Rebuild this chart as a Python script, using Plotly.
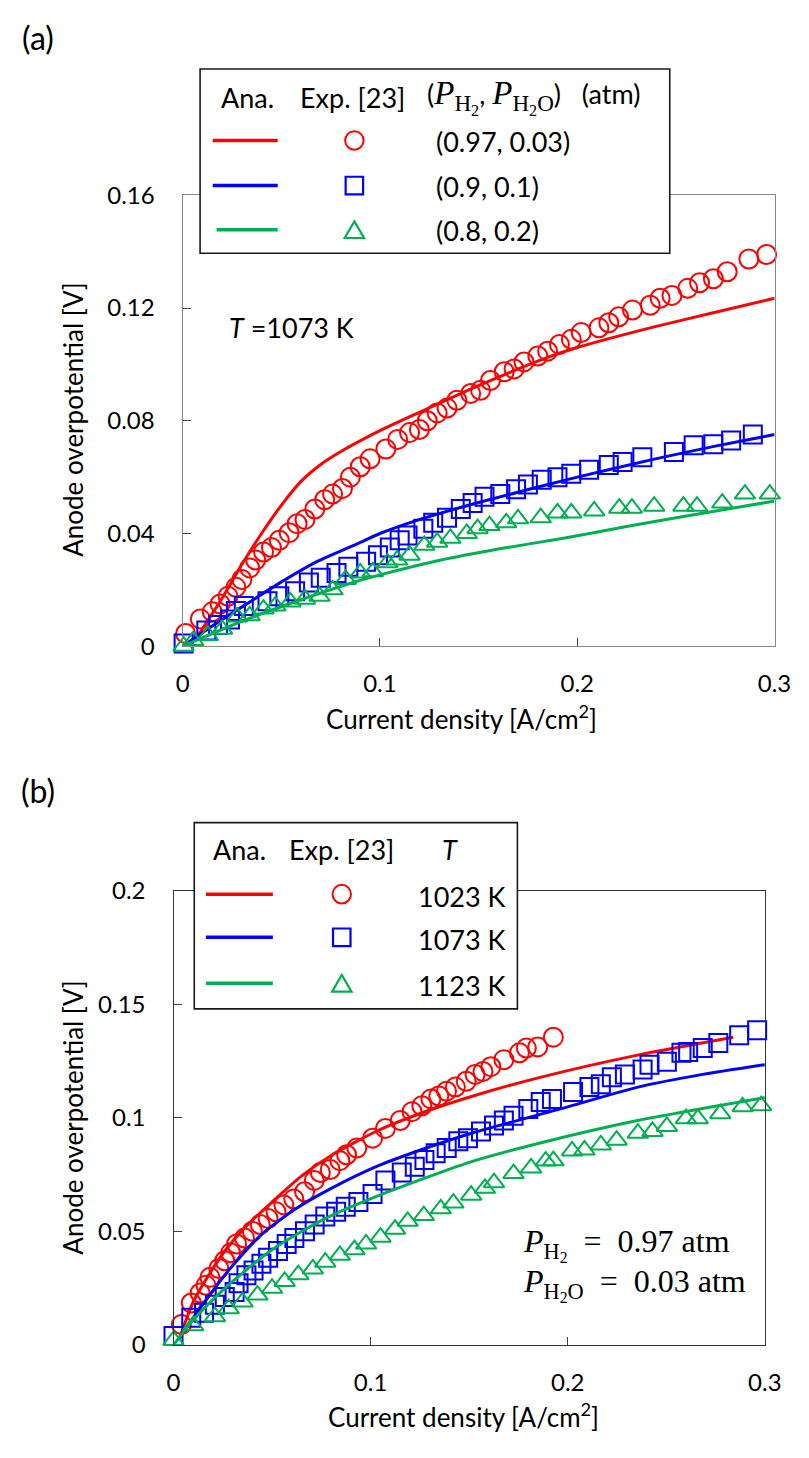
import plotly.graph_objects as go

W, H = 809, 1458
RED, BLUE, GREEN = "#FF0000", "#0000FF", "#00B050"
FONT = "Lato"
SERIF = "Liberation Serif"

# ---------------- Panel (a) data : T = 1073 K ----------------
a_red_line_x = [0.008, 0.02, 0.03, 0.04, 0.05, 0.06, 0.07, 0.08, 0.10, 0.12, 0.15, 0.185, 0.20, 0.24, 0.27, 0.30]
a_red_line_y = [0.004, 0.017, 0.029, 0.040, 0.050, 0.0585, 0.0645, 0.069, 0.0765, 0.083, 0.0925, 0.1025, 0.1060, 0.1135, 0.1185, 0.1235]

a_red_exp_x = [0.0015, 0.009, 0.015, 0.019, 0.023, 0.027, 0.030, 0.034, 0.037, 0.041, 0.045, 0.049, 0.054, 0.058,
               0.062, 0.067, 0.072, 0.076, 0.081, 0.085, 0.090, 0.095, 0.103, 0.109, 0.115, 0.120, 0.124, 0.129,
               0.134, 0.139, 0.146, 0.151, 0.156, 0.163, 0.168, 0.173, 0.180, 0.185, 0.191, 0.197, 0.202, 0.211,
               0.216, 0.221, 0.228, 0.237, 0.242, 0.248, 0.256, 0.262, 0.269, 0.276, 0.287, 0.296]
a_red_exp_y = [0.0045, 0.0097, 0.0122, 0.015, 0.0177, 0.0209, 0.0237, 0.0278, 0.0306, 0.0334, 0.035, 0.0376, 0.0403,
               0.0435, 0.045, 0.0487, 0.052, 0.054, 0.056, 0.060, 0.0637, 0.0665, 0.070, 0.0734, 0.0758, 0.0769,
               0.080, 0.0828, 0.0845, 0.0873, 0.0897, 0.0908, 0.0943, 0.0974, 0.0984, 0.1009, 0.103, 0.1047, 0.1071,
               0.1089, 0.1113, 0.113, 0.1148, 0.1169, 0.1193, 0.121, 0.1235, 0.1245, 0.127, 0.129, 0.1304, 0.1329,
               0.1374, 0.139]

a_blue_line_x = [0.0, 0.01, 0.02, 0.034, 0.047, 0.068, 0.089, 0.10, 0.118, 0.15, 0.20, 0.239, 0.27, 0.30]
a_blue_line_y = [0.0, 0.0048, 0.0095, 0.0157, 0.0215, 0.030, 0.0365, 0.040, 0.0445, 0.051, 0.060, 0.0664, 0.071, 0.0751]

a_blue_exp_x = [0.0005, 0.012, 0.018, 0.024, 0.027, 0.031, 0.043, 0.049, 0.057, 0.064, 0.070, 0.078, 0.084, 0.093,
                0.099, 0.105, 0.110, 0.114, 0.122, 0.127, 0.134, 0.141, 0.147, 0.153, 0.161, 0.169, 0.175, 0.182,
                0.190, 0.197, 0.206, 0.216, 0.223, 0.233, 0.249, 0.259, 0.269, 0.278, 0.289]
a_blue_exp_y = [0.001, 0.0056, 0.0075, 0.0095, 0.0125, 0.0143, 0.016, 0.0177, 0.0195, 0.0226, 0.0243, 0.026, 0.0282,
                0.030, 0.0323, 0.035, 0.0376, 0.0393, 0.0417, 0.0438, 0.0456, 0.0487, 0.0508, 0.053, 0.054, 0.0557,
                0.0574, 0.0591, 0.060, 0.0612, 0.0626, 0.0643, 0.0654, 0.0671, 0.0689, 0.0713, 0.0717, 0.073, 0.0751]

a_green_line_x = [0.0, 0.02, 0.04, 0.06, 0.083, 0.10, 0.131, 0.16, 0.193, 0.225, 0.256, 0.30]
a_green_line_y = [0.0, 0.006, 0.0115, 0.0165, 0.0219, 0.0253, 0.0306, 0.0345, 0.0383, 0.0425, 0.0463, 0.0515]

a_green_exp_x = [0.0005, 0.0054, 0.0128, 0.020, 0.0276, 0.034, 0.041, 0.047, 0.0546, 0.062, 0.0694, 0.076, 0.0826,
                 0.090, 0.0964, 0.1038, 0.1087, 0.115, 0.1225, 0.129, 0.1357, 0.144, 0.1495, 0.1555, 0.164, 0.170,
                 0.1815, 0.19, 0.197, 0.2086, 0.2213, 0.2277, 0.239, 0.2538, 0.2607, 0.2735, 0.285, 0.2976]
a_green_exp_y = [0.0, 0.002, 0.0038, 0.006, 0.0104, 0.0108, 0.0132, 0.0143, 0.0157, 0.0167, 0.0177, 0.020, 0.0237,
                 0.026, 0.0264, 0.0296, 0.0306, 0.0323, 0.0358, 0.0369, 0.0383, 0.040, 0.0417, 0.0428, 0.0438,
                 0.0452, 0.0456, 0.0473, 0.0473, 0.048, 0.049, 0.049, 0.0497, 0.0497, 0.0497, 0.0508, 0.054, 0.054]

# ---------------- Panel (b) data : P_H2 = 0.97, P_H2O = 0.03 ----------------
b_red_line_x = [0.003, 0.01, 0.018, 0.027, 0.037, 0.05, 0.065, 0.08, 0.104, 0.129, 0.152, 0.186, 0.236, 0.284]
b_red_line_y = [0.003, 0.019, 0.031, 0.0425, 0.0525, 0.063, 0.0745, 0.0835, 0.0946, 0.1032, 0.1097, 0.1179, 0.1278, 0.1356]

b_red_exp_x = [0.004, 0.009, 0.0135, 0.0165, 0.0185, 0.023, 0.026, 0.029, 0.032, 0.036, 0.040, 0.044, 0.048, 0.052,
               0.056, 0.061, 0.0665, 0.0714, 0.0745, 0.0795, 0.0844, 0.0878, 0.093, 0.101, 0.1075, 0.115, 0.121,
               0.126, 0.1306, 0.1346, 0.1385, 0.143, 0.1485, 0.153, 0.157, 0.161, 0.1676, 0.1755, 0.179, 0.1848, 0.1927]
b_red_exp_y = [0.009, 0.0185, 0.0229, 0.0263, 0.0298, 0.0337, 0.0371, 0.0406, 0.0445, 0.0471, 0.0501, 0.0531, 0.0557,
               0.0587, 0.0617, 0.0643, 0.0675, 0.0725, 0.076, 0.0773, 0.0812, 0.0838, 0.0868, 0.0911, 0.0954, 0.0989,
               0.1028, 0.1054, 0.1084, 0.1097, 0.1118, 0.1136, 0.1162, 0.1192, 0.1205, 0.1226, 0.1257, 0.1287,
               0.1308, 0.1313, 0.1356]

b_blue_line_x = [0.003, 0.01, 0.02, 0.03, 0.045, 0.062, 0.08, 0.104, 0.129, 0.152, 0.20, 0.2356, 0.2685, 0.30]
b_blue_line_y = [0.003, 0.012, 0.024, 0.035, 0.049, 0.060, 0.069, 0.079, 0.087, 0.0935, 0.1049, 0.1136, 0.1192, 0.1235]

b_blue_exp_x = [0.0, 0.009, 0.0155, 0.021, 0.026, 0.031, 0.033, 0.037, 0.0406, 0.0446, 0.048, 0.053, 0.0574, 0.0613,
                0.0667, 0.0716, 0.077, 0.0825, 0.0874, 0.0938, 0.101, 0.1075, 0.1158, 0.1224, 0.1273, 0.133, 0.1386,
                0.1445, 0.1494, 0.156, 0.1626, 0.1676, 0.1725, 0.18, 0.1863, 0.192, 0.2027, 0.211, 0.2168, 0.2224,
                0.229, 0.238, 0.2415, 0.2503, 0.2577, 0.2611, 0.2685, 0.2764, 0.287, 0.2961]
b_blue_exp_y = [0.004, 0.012, 0.0142, 0.0177, 0.0212, 0.0233, 0.0272, 0.0307, 0.0328, 0.0358, 0.0384, 0.0414, 0.0445,
                0.0471, 0.0501, 0.0531, 0.0566, 0.0587, 0.0609, 0.063, 0.0665, 0.0725, 0.076, 0.0785, 0.0815, 0.0845,
                0.0868, 0.0898, 0.0911, 0.0941, 0.0967, 0.0989, 0.101, 0.104, 0.107, 0.1084, 0.1114, 0.1136, 0.1149,
                0.1179, 0.1192, 0.1213, 0.1235, 0.1248, 0.1287, 0.1291, 0.1308, 0.133, 0.1364, 0.1386]

b_green_line_x = [0.0, 0.01, 0.02, 0.03, 0.05, 0.067, 0.08, 0.1075, 0.137, 0.152, 0.186, 0.236, 0.30]
b_green_line_y = [0.0, 0.011, 0.020, 0.028, 0.042, 0.051, 0.057, 0.067, 0.0765, 0.081, 0.089, 0.099, 0.109]

b_green_exp_x = [0.0, 0.010, 0.021, 0.028, 0.035, 0.0426, 0.050, 0.0564, 0.0633, 0.0707, 0.077, 0.0844, 0.0918,
                 0.0977, 0.105, 0.1124, 0.1188, 0.127, 0.1356, 0.142, 0.151, 0.158, 0.1626, 0.1725, 0.1814, 0.1888,
                 0.1927, 0.2022, 0.2085, 0.2168, 0.2248, 0.2356, 0.243, 0.2503, 0.26, 0.266, 0.2774, 0.2887, 0.2981]
b_green_exp_y = [0.002, 0.0085, 0.0125, 0.016, 0.019, 0.022, 0.025, 0.028, 0.031, 0.0335, 0.0365, 0.0395, 0.042,
                 0.0445, 0.0475, 0.051, 0.0545, 0.057, 0.060, 0.0625, 0.066, 0.069, 0.0715, 0.0755, 0.078, 0.081,
                 0.0812, 0.0855, 0.0859, 0.0881, 0.0902, 0.0933, 0.0941, 0.0963, 0.0997, 0.0997, 0.1019, 0.1049, 0.1054]

x_ticks = [0, 0.1, 0.2, 0.3]
x_ticktext = ["0", "0.1", "0.2", "0.3"]
a_y_ticks = [0, 0.04, 0.08, 0.12, 0.16]
a_y_ticktext = ["0", "0.04", "0.08", "0.12", "0.16"]
b_y_ticks = [0, 0.05, 0.1, 0.15, 0.2]
b_y_ticktext = ["0", "0.05", "0.1", "0.15", "0.2"]

a_legend_rows = ["(0.97, 0.03)", "(0.9, 0.1)", "(0.8, 0.2)"]
b_legend_rows = ["1023 K", "1073 K", "1123 K"]
x_title = "Current density [A/cm<sup>2</sup>]"
y_title = "Anode overpotential [V]"


def px(x):
    return x / W


def py(y):
    return 1 - y / H


fig = go.Figure()


def add_series(lx, ly, ex, ey, color, symbol, size, xa, ya):
    fig.add_trace(go.Scatter(x=lx, y=ly, mode="lines", line=dict(color=color, width=3, shape="spline", smoothing=0.6),
                             xaxis=xa, yaxis=ya, showlegend=False, cliponaxis=False, hoverinfo="skip"))
    fig.add_trace(go.Scatter(x=ex, y=ey, mode="markers",
                             marker=dict(symbol=symbol, size=size, color=color, line=dict(color=color, width=2)),
                             xaxis=xa, yaxis=ya, showlegend=False, cliponaxis=False))


add_series(a_red_line_x, a_red_line_y, a_red_exp_x, a_red_exp_y, RED, "circle-open", 19, "x", "y")
add_series(a_blue_line_x, a_blue_line_y, a_blue_exp_x, a_blue_exp_y, BLUE, "square-open", 18, "x", "y")
add_series(a_green_line_x, a_green_line_y, a_green_exp_x, a_green_exp_y, GREEN, "triangle-up-open", 18, "x", "y")
add_series(b_red_line_x, b_red_line_y, b_red_exp_x, b_red_exp_y, RED, "circle-open", 19, "x2", "y2")
add_series(b_blue_line_x, b_blue_line_y, b_blue_exp_x, b_blue_exp_y, BLUE, "square-open", 18, "x2", "y2")
add_series(b_green_line_x, b_green_line_y, b_green_exp_x, b_green_exp_y, GREEN, "triangle-up-open", 18, "x2", "y2")

tickfont = dict(family=FONT, size=24, color="black")


def xax(domain, anchor, linecolor):
    return dict(domain=domain, anchor=anchor, range=[0, 0.3], tickvals=x_ticks, ticktext=x_ticktext,
                showline=True, mirror=True, linecolor=linecolor, linewidth=1.3, ticks="inside", ticklen=8,
                tickcolor="#444", tickwidth=1.3, showgrid=False, zeroline=False, tickfont=tickfont,
                ticklabelstandoff=16)


def yax(domain, anchor, rng, tv, tt, linecolor):
    return dict(domain=domain, anchor=anchor, range=rng, tickvals=tv, ticktext=tt,
                showline=True, mirror=True, linecolor=linecolor, linewidth=1.3, ticks="inside", ticklen=8,
                tickcolor="#444", tickwidth=1.3, showgrid=False, zeroline=False, tickfont=tickfont,
                ticklabelstandoff=22)


fig.update_layout(
    width=W, height=H, margin=dict(l=0, r=0, t=0, b=0),
    paper_bgcolor="white", plot_bgcolor="white", showlegend=False,
    font=dict(family=FONT, color="black"),
    xaxis=xax([px(181), px(791)], "y", "#888888"),
    yaxis=yax([py(643), py(183)], "x", [0, 0.16], a_y_ticks, a_y_ticktext, "#888888"),
    xaxis2=xax([px(171.6), px(781)], "y2", "#333333"),
    yaxis2=yax([py(1356), py(892.7)], "x2", [0, 0.2], b_y_ticks, b_y_ticktext, "#333333"),
)

shapes = []
annots = []


def text(x, y, s, size=27, xanchor="center", family=FONT, angle=0):
    annots.append(dict(x=px(x), y=py(y), xref="paper", yref="paper", text=s, showarrow=False,
                       xanchor=xanchor, yanchor="middle", textangle=angle,
                       font=dict(family=family, size=size, color="black")))


def box(x0, y0, x1, y1):
    shapes.append(dict(type="rect", xref="paper", yref="paper", x0=px(x0), x1=px(x1), y0=py(y0), y1=py(y1),
                       fillcolor="white", line=dict(color="#1a1a1a", width=1.6), layer="above"))


def leg_line(x0, x1, y, color):
    shapes.append(dict(type="line", xref="paper", yref="paper", x0=px(x0), x1=px(x1), y0=py(y), y1=py(y),
                       line=dict(color=color, width=3.5), layer="above"))


def leg_marker(kind, cx, cy, color):
    if kind == "circle":
        r = 9.5
        shapes.append(dict(type="circle", xref="paper", yref="paper", x0=px(cx - r), x1=px(cx + r),
                           y0=py(cy + r), y1=py(cy - r), line=dict(color=color, width=2), layer="above"))
    elif kind == "square":
        r = 9
        shapes.append(dict(type="rect", xref="paper", yref="paper", x0=px(cx - r), x1=px(cx + r),
                           y0=py(cy + r), y1=py(cy - r), line=dict(color=color, width=2.2), layer="above"))
    else:
        w, h = 10, 17
        path = "M %f,%f L %f,%f L %f,%f Z" % (px(cx - w), py(cy + h / 2), px(cx + w), py(cy + h / 2),
                                              px(cx), py(cy - h / 2))
        shapes.append(dict(type="path", xref="paper", yref="paper", path=path,
                           line=dict(color=color, width=2.2), layer="above"))


S = '<span style="font-family:%s;font-size:33px">' % SERIF
E = "</span>"
NB = "\u00a0"
EN = "\u2002"

# ---- panel labels
text(32, 22, "(a)", size=32)
text(32, 790, "(b)", size=32)

# ---- axis titles
text(468, 716, x_title, size=26)
text(470, 1428, x_title, size=26)
text(68, 412, y_title, size=26, angle=-90)
text(68, 1124, y_title, size=26, angle=-90)

# ---- legend (a)
box(199, 54, 683, 242)
text(248, 83, "Ana.")
text(356, 83, "Exp. [23]")
text(431, 83, "(" + S + "<i>P</i><sub>H<sub>2</sub></sub>" + E + ", " + S + "<i>P</i><sub>H<sub>2</sub>O</sub>"
     + E + ")" + NB + NB + NB + "(atm)", xanchor="left")
rows_y_a = [127, 173, 218]
cols = [RED, BLUE, GREEN]
kinds = ["circle", "square", "triangle"]
for i in range(3):
    leg_line(212 if i < 2 else 216, 279, rows_y_a[i], cols[i])
    leg_marker(kinds[i], 358, rows_y_a[i], cols[i])
    text(440, rows_y_a[i] + 1, a_legend_rows[i], xanchor="left")

text(227, 318, "<i>T</i> =1073 K", xanchor="left")

# ---- legend (b)
box(193, 823, 526, 1013)
text(240, 850, "Ana.")
text(345, 850, "Exp. [23]")
text(457, 850, "<i>T</i>")
rows_y_b = [896, 940, 987]
for i in range(3):
    leg_line(205, 274, rows_y_b[i], cols[i])
    leg_marker(kinds[i], 345, rows_y_b[i], cols[i])
    text(422, rows_y_b[i] + 2, b_legend_rows[i], xanchor="left")

text(530, 1253, "<i>P</i><sub>H<sub>2</sub></sub>" + EN + "=" + EN + "0.97 atm", size=32, xanchor="left", family=SERIF)
text(530, 1294, "<i>P</i><sub>H<sub>2</sub>O</sub>" + EN + "=" + EN + "0.03 atm", size=32, xanchor="left", family=SERIF)

fig.update_layout(shapes=shapes, annotations=annots)
fig.write_html("out.html")
